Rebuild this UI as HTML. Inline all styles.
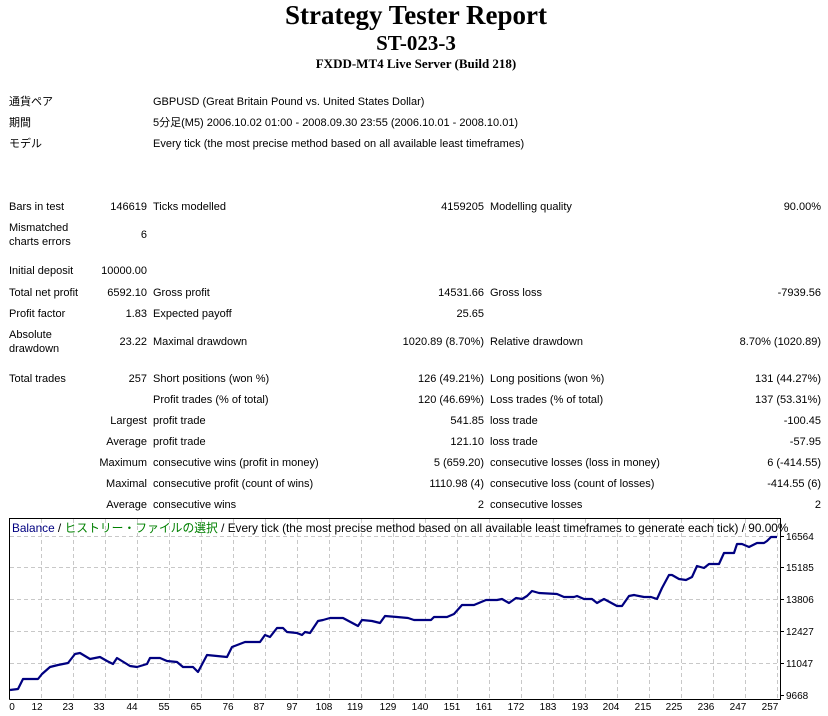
<!DOCTYPE html>
<html><head><meta charset="utf-8"><style>
body{margin:0;width:828px;height:716px;background:#fff;position:relative;overflow:hidden;font-family:"Liberation Sans","Noto Sans CJK JP",sans-serif;font-size:11px;color:#000}
.t{position:absolute;line-height:14px;white-space:nowrap;margin-top:1px}
.r{text-align:right}
.h{position:absolute;left:0;width:828px;text-align:center;font-family:"Liberation Serif",serif;font-weight:bold;white-space:nowrap}
</style></head><body>
<div class="h" style="top:0;font-size:27px;line-height:30px;left:2px">Strategy Tester Report</div>
<div class="h" style="top:31px;font-size:21px;line-height:24px;left:2px">ST-023-3</div>
<div class="h" style="top:56px;font-size:13px;line-height:16px;left:2px">FXDD-MT4 Live Server (Build 218)</div>

<div class="t" style="left:9px;top:94px">通貨ペア</div>
<div class="t" style="left:153px;top:94px">GBPUSD (Great Britain Pound vs. United States Dollar)</div>
<div class="t" style="left:9px;top:115px">期間</div>
<div class="t" style="left:153px;top:115px">5分足(M5) 2006.10.02 01:00 - 2008.09.30 23:55 (2006.10.01 - 2008.10.01)</div>
<div class="t" style="left:9px;top:136px">モデル</div>
<div class="t" style="left:153px;top:136px">Every tick (the most precise method based on all available least timeframes)</div>

<div class="t" style="left:9px;top:199px">Bars in test</div>
<div class="t r" style="right:681px;top:199px">146619</div>
<div class="t" style="left:153px;top:199px">Ticks modelled</div>
<div class="t r" style="right:344px;top:199px">4159205</div>
<div class="t" style="left:490px;top:199px">Modelling quality</div>
<div class="t r" style="right:7px;top:199px">90.00%</div>

<div class="t" style="left:9px;top:220px">Mismatched<br>charts errors</div>
<div class="t r" style="right:681px;top:227px">6</div>

<div class="t" style="left:9px;top:263px">Initial deposit</div>
<div class="t r" style="right:681px;top:263px">10000.00</div>

<div class="t" style="left:9px;top:285px">Total net profit</div>
<div class="t r" style="right:681px;top:285px">6592.10</div>
<div class="t" style="left:153px;top:285px">Gross profit</div>
<div class="t r" style="right:344px;top:285px">14531.66</div>
<div class="t" style="left:490px;top:285px">Gross loss</div>
<div class="t r" style="right:7px;top:285px">-7939.56</div>

<div class="t" style="left:9px;top:306px">Profit factor</div>
<div class="t r" style="right:681px;top:306px">1.83</div>
<div class="t" style="left:153px;top:306px">Expected payoff</div>
<div class="t r" style="right:344px;top:306px">25.65</div>

<div class="t" style="left:9px;top:327px">Absolute<br>drawdown</div>
<div class="t r" style="right:681px;top:334px">23.22</div>
<div class="t" style="left:153px;top:334px">Maximal drawdown</div>
<div class="t r" style="right:344px;top:334px">1020.89 (8.70%)</div>
<div class="t" style="left:490px;top:334px">Relative drawdown</div>
<div class="t r" style="right:7px;top:334px">8.70% (1020.89)</div>

<div class="t" style="left:9px;top:371px">Total trades</div>
<div class="t r" style="right:681px;top:371px">257</div>
<div class="t" style="left:153px;top:371px">Short positions (won %)</div>
<div class="t r" style="right:344px;top:371px">126 (49.21%)</div>
<div class="t" style="left:490px;top:371px">Long positions (won %)</div>
<div class="t r" style="right:7px;top:371px">131 (44.27%)</div>

<div class="t" style="left:153px;top:392px">Profit trades (% of total)</div>
<div class="t r" style="right:344px;top:392px">120 (46.69%)</div>
<div class="t" style="left:490px;top:392px">Loss trades (% of total)</div>
<div class="t r" style="right:7px;top:392px">137 (53.31%)</div>

<div class="t r" style="right:681px;top:413px">Largest</div>
<div class="t" style="left:153px;top:413px">profit trade</div>
<div class="t r" style="right:344px;top:413px">541.85</div>
<div class="t" style="left:490px;top:413px">loss trade</div>
<div class="t r" style="right:7px;top:413px">-100.45</div>

<div class="t r" style="right:681px;top:434px">Average</div>
<div class="t" style="left:153px;top:434px">profit trade</div>
<div class="t r" style="right:344px;top:434px">121.10</div>
<div class="t" style="left:490px;top:434px">loss trade</div>
<div class="t r" style="right:7px;top:434px">-57.95</div>

<div class="t r" style="right:681px;top:455px">Maximum</div>
<div class="t" style="left:153px;top:455px">consecutive wins (profit in money)</div>
<div class="t r" style="right:344px;top:455px">5 (659.20)</div>
<div class="t" style="left:490px;top:455px">consecutive losses (loss in money)</div>
<div class="t r" style="right:7px;top:455px">6 (-414.55)</div>

<div class="t r" style="right:681px;top:476px">Maximal</div>
<div class="t" style="left:153px;top:476px">consecutive profit (count of wins)</div>
<div class="t r" style="right:344px;top:476px">1110.98 (4)</div>
<div class="t" style="left:490px;top:476px">consecutive loss (count of losses)</div>
<div class="t r" style="right:7px;top:476px">-414.55 (6)</div>

<div class="t r" style="right:681px;top:497px">Average</div>
<div class="t" style="left:153px;top:497px">consecutive wins</div>
<div class="t r" style="right:344px;top:497px">2</div>
<div class="t" style="left:490px;top:497px">consecutive losses</div>
<div class="t r" style="right:7px;top:497px">2</div>

<svg style="position:absolute;left:0;top:0" width="828" height="716">
<g stroke="#c8c8c8" stroke-dasharray="4,3" stroke-width="1">
<line x1="10" x2="780" y1="536.5" y2="536.5"/><line x1="10" x2="780" y1="567.5" y2="567.5"/><line x1="10" x2="780" y1="599.5" y2="599.5"/><line x1="10" x2="780" y1="631.5" y2="631.5"/><line x1="10" x2="780" y1="663.5" y2="663.5"/>
<line x1="41.5" x2="41.5" y1="519" y2="699"/><line x1="73.5" x2="73.5" y1="519" y2="699"/><line x1="105.5" x2="105.5" y1="519" y2="699"/><line x1="137.5" x2="137.5" y1="519" y2="699"/><line x1="169.5" x2="169.5" y1="519" y2="699"/><line x1="201.5" x2="201.5" y1="519" y2="699"/><line x1="233.5" x2="233.5" y1="519" y2="699"/><line x1="265.5" x2="265.5" y1="519" y2="699"/><line x1="297.5" x2="297.5" y1="519" y2="699"/><line x1="329.5" x2="329.5" y1="519" y2="699"/><line x1="361.5" x2="361.5" y1="519" y2="699"/><line x1="393.5" x2="393.5" y1="519" y2="699"/><line x1="425.5" x2="425.5" y1="519" y2="699"/><line x1="457.5" x2="457.5" y1="519" y2="699"/><line x1="489.5" x2="489.5" y1="519" y2="699"/><line x1="521.5" x2="521.5" y1="519" y2="699"/><line x1="553.5" x2="553.5" y1="519" y2="699"/><line x1="585.5" x2="585.5" y1="519" y2="699"/><line x1="617.5" x2="617.5" y1="519" y2="699"/><line x1="649.5" x2="649.5" y1="519" y2="699"/><line x1="681.5" x2="681.5" y1="519" y2="699"/><line x1="713.5" x2="713.5" y1="519" y2="699"/><line x1="745.5" x2="745.5" y1="519" y2="699"/><line x1="777.5" x2="777.5" y1="519" y2="699"/>
</g>
<path d="M9.5 699.5V518.5H780.5V699.5H9.5" fill="none" stroke="#000" stroke-width="1"/>
<g stroke="#000"><line x1="780" x2="784" y1="536.5" y2="536.5"/><line x1="780" x2="784" y1="567.5" y2="567.5"/><line x1="780" x2="784" y1="599.5" y2="599.5"/><line x1="780" x2="784" y1="631.5" y2="631.5"/><line x1="780" x2="784" y1="663.5" y2="663.5"/><line x1="780" x2="784" y1="695.5" y2="695.5"/></g>
<polyline fill="none" stroke="#000080" stroke-width="2.2" stroke-linejoin="round" points="10,690 18,689 23,679 38,679 42,674 50,667 58,665 68,663 75,654 80,653 90,659 100,657 107,661 113,664 117,658 130,666 137,667 147,664 150,658 160,658 167,661 177,662 183,667 193,667 198,672 207,655 227,657 232,647 245,642 260,642 265,635 270,637 277,628 283,628 287,632 297,633 302,635 305,632 310,633 318,621 323,620 330,618 343,618 358,626 362,620 372,621 380,623 385,616 397,617 408,618 414,620 431,620 434,617 447,617 454,614 462,605 474,605 486,600 497,600 502,599 509,603 516,598 522,599 527,596 532,591 539,593 557,594 564,597 574,597 577,596 584,599 592,599 597,603 604,599 617,606 622,606 629,596 634,595 644,597 651,597 657,599 662,588 669,575 672,575 679,579 686,580 692,577 697,566 704,568 709,564 719,564 724,553 734,553 737,544 742,544 749,547 757,543 764,543 767,541 771,537 777,537"/>
<g font-family="Liberation Sans, sans-serif" font-size="10" fill="#000">
<text x="786" y="540">16564</text><text x="786" y="571">15185</text><text x="786" y="603">13806</text><text x="786" y="635">12427</text><text x="786" y="667">11047</text><text x="786" y="699">9668</text>
</g>
<g font-family="Liberation Sans, sans-serif" font-size="10" fill="#000" text-anchor="middle">
<text x="12" y="710">0</text><text x="37" y="710">12</text><text x="68" y="710">23</text><text x="99" y="710">33</text><text x="132" y="710">44</text><text x="164" y="710">55</text><text x="196" y="710">65</text><text x="228" y="710">76</text><text x="259" y="710">87</text><text x="292" y="710">97</text><text x="324" y="710">108</text><text x="355" y="710">119</text><text x="388" y="710">129</text><text x="420" y="710">140</text><text x="452" y="710">151</text><text x="484" y="710">161</text><text x="516" y="710">172</text><text x="548" y="710">183</text><text x="580" y="710">193</text><text x="611" y="710">204</text><text x="643" y="710">215</text><text x="674" y="710">225</text><text x="706" y="710">236</text><text x="738" y="710">247</text><text x="770" y="710">257</text>
</g>
<text x="12" y="532" font-family="Liberation Sans, Noto Sans CJK JP, sans-serif" font-size="11.8"><tspan fill="#000080">Balance</tspan><tspan fill="#000"> / </tspan><tspan fill="#008000">ヒストリー・ファイルの選択</tspan><tspan fill="#000"> / Every tick (the most precise method based on all available least timeframes to generate each tick) / 90.00%</tspan></text>
</svg>
</body></html>
